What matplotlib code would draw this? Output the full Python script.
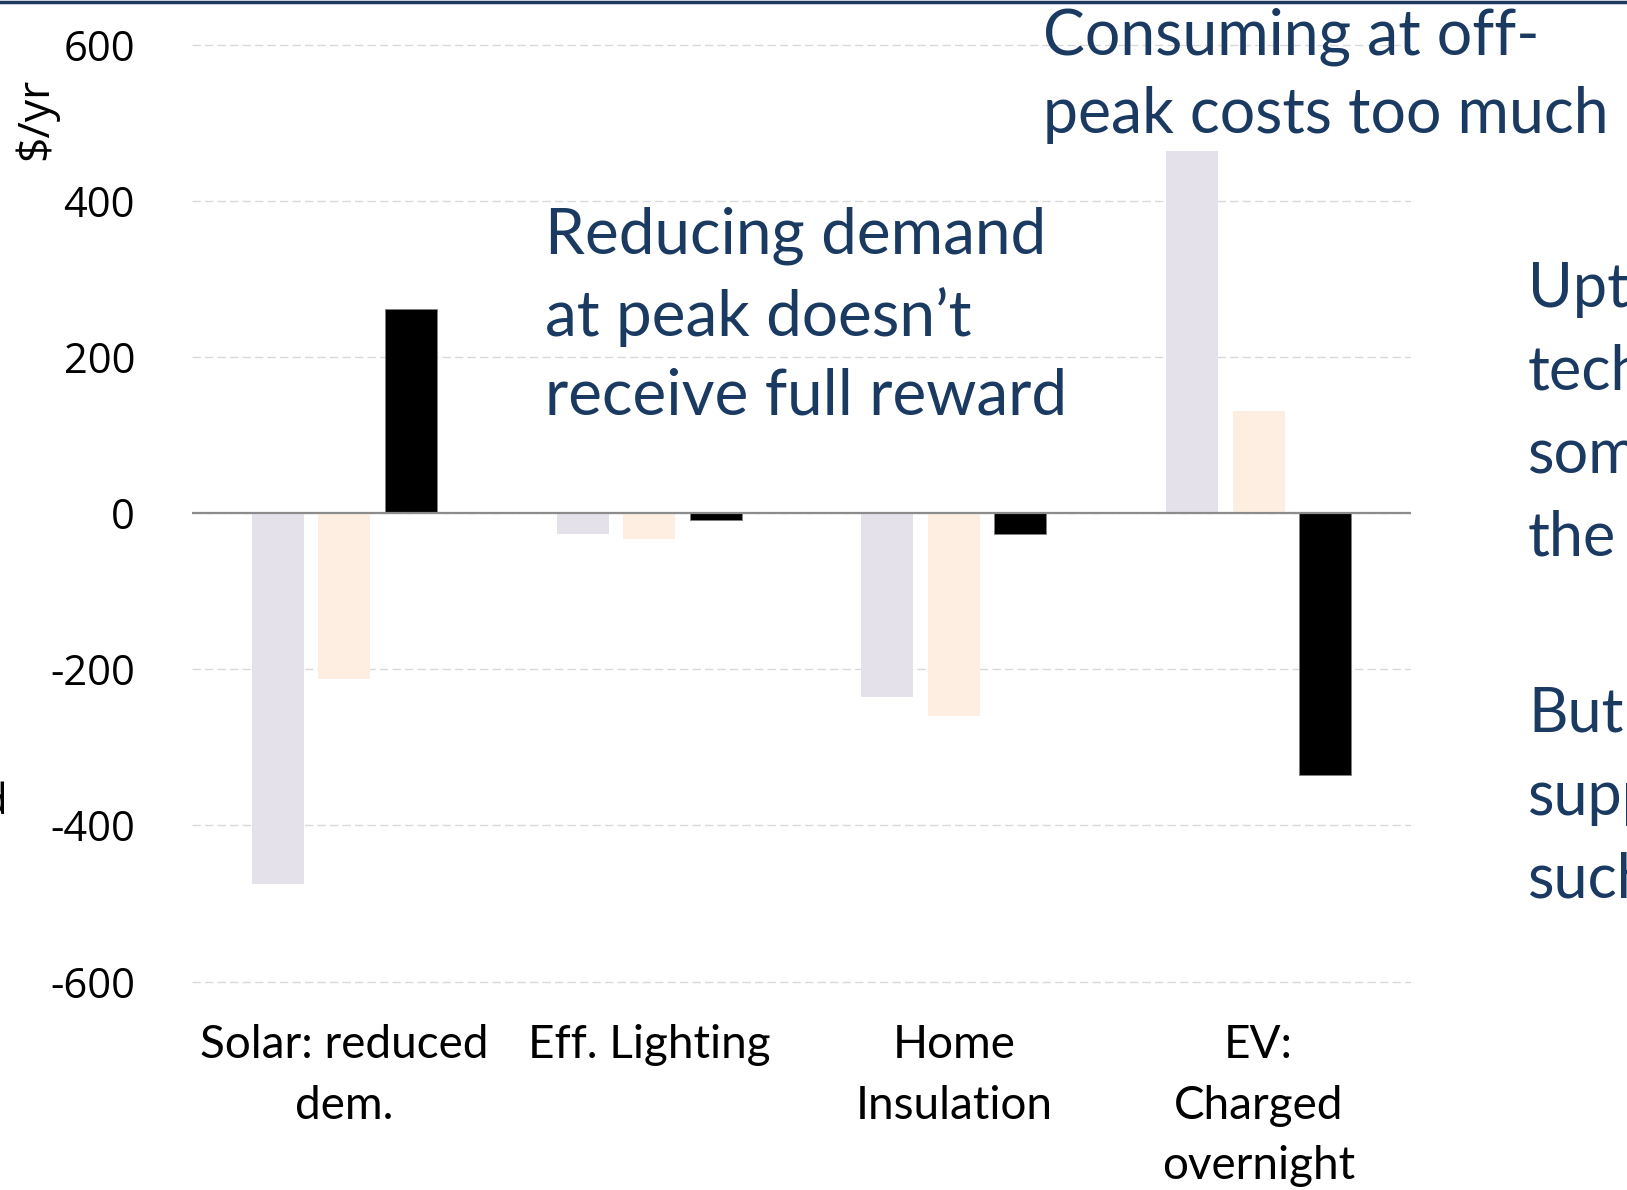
import matplotlib
matplotlib.use("Agg")
import matplotlib.pyplot as plt
import numpy as np
from matplotlib.lines import Line2D

# ---- data ----
categories = ["Solar: reduced\ndem.", "Eff. Lighting", "Home\nInsulation", "EV:\nCharged\novernight"]
series_a = [-475, -27, -236, 464]     # light lavender
series_b = [-212, -33, -260, 131]     # light peach
series_c = [261, -9, -27, -336]       # black
yticks = [-600, -400, -200, 0, 200, 400, 600]

navy = "#1B3A62"
W, H = 1627, 1190
fig = plt.figure(figsize=(W / 100, H / 100), dpi=100)

def fx(px):
    return px / W

def fy(py):
    return 1 - py / H

ax = fig.add_axes([fx(192), fy(985.5), fx(1411 - 192), (985.5 - 40.7) / H])
x = np.arange(len(categories))
bw = 0.171
off = 0.218
ax.bar(x - off, series_a, bw, color="#E4E1EA", zorder=2)
ax.bar(x, series_b, bw, color="#FDEEE1", zorder=2)
ax.bar(x + off, series_c, bw, color="#000000", edgecolor="#7F7F7F", linewidth=0.6, zorder=2)

ax.set_xlim(-0.5, 3.5)
ax.set_ylim(-605, 605)
ax.set_yticks(yticks)
ax.set_yticklabels([str(v) for v in yticks], fontfamily="Open Sans", fontsize=30)
ax.tick_params(axis="y", length=0, pad=41)
ax.set_xticks(x)
ax.set_xticklabels(categories, fontfamily="Lato", fontsize=33, linespacing=1.54,
                   multialignment="center")
ax.tick_params(axis="x", length=0, pad=28)
for s in ax.spines.values():
    s.set_visible(False)
ax.grid(axis="y", color="#D9D9D9", linewidth=1.0, linestyle=(0, (6, 3)), zorder=0)
ax.axhline(0, color="#8C8C8C", linewidth=1.6, zorder=3)

# y-axis label
fig.text(fx(36), fy(119), "$/yr", rotation=90, ha="center", va="center",
         fontfamily="Open Sans", fontsize=32, color="black")
# cut-off letter at left edge
fig.text(fx(7), fy(803), "d", ha="right", va="center", fontfamily="Open Sans",
         fontsize=30, color="black")

# annotations
fig.text(fx(545), fy(316), "Reducing demand\nat peak doesn\u2019t\nreceive full reward",
         ha="left", va="center", fontfamily="Lato", fontsize=46, color=navy, linespacing=1.45)
fig.text(fx(1043), fy(76), "Consuming at off-\npeak costs too much",
         ha="left", va="center", fontfamily="Lato", fontsize=45, color=navy, linespacing=1.42)
fig.text(fx(1528), fy(414), "Uptake of\ntechnologies\nsome\nthe",
         ha="left", va="center", fontfamily="Lato", fontsize=44, color=navy, linespacing=1.56)
fig.text(fx(1528), fy(797), "But\nsupport\nsuch",
         ha="left", va="center", fontfamily="Lato", fontsize=44, color=navy, linespacing=1.56)

# top border line
fig.add_artist(Line2D([0, 1], [fy(1.5), fy(1.5)], color="#1F3A5F", linewidth=2.5,
                      transform=fig.transFigure))

fig.savefig("out.png", dpi=100)
